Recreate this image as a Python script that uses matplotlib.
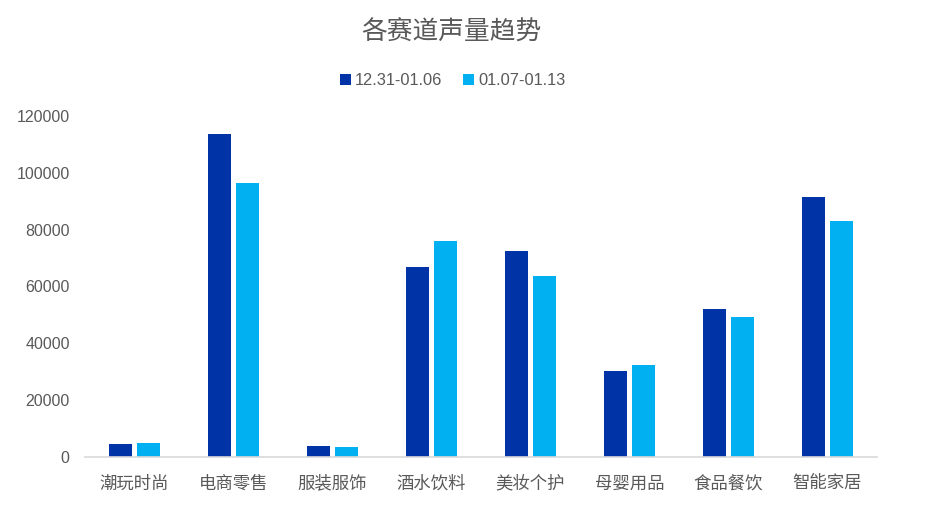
import matplotlib
matplotlib.use("Agg")
import matplotlib.pyplot as plt
import numpy as np

plt.rcParams['font.family'] = ['Liberation Sans', 'Noto Sans CJK SC', 'DejaVu Sans']

categories = ["潮玩时尚", "电商零售", "服装服饰", "酒水饮料", "美妆个护", "母婴用品", "食品餐饮", "智能家居"]
week1 = [4600, 113800, 3900, 66800, 72500, 30200, 52000, 91400]
week2 = [4900, 96300, 3500, 76000, 63600, 32200, 49300, 82900]
labels = ["12.31-01.06", "01.07-01.13"]

fig = plt.figure(figsize=(9.37, 5.08), dpi=100)
ax = fig.add_axes([85 / 937, 1 - 457 / 508, 792 / 937, 341 / 508])

x = np.arange(len(categories))
w = 0.23
gap = 0.03
ax.bar(x - w / 2 - gap, week1, w, color="#0033a6", label=labels[0])
ax.bar(x + w / 2 + gap, week2, w, color="#00b0f0", label=labels[1])

ax.set_xlim(-0.5, len(categories) - 0.5)
ax.set_ylim(0, 120000)
ax.set_yticks(range(0, 120001, 20000))
ax.set_xticks(x)
ax.set_xticklabels(categories, fontsize=12.5, family="Noto Sans CJK SC", va="center")
ax.tick_params(axis="both", length=0, labelcolor="#595959")
ax.tick_params(axis="y", labelsize=11.5, pad=11)
ax.tick_params(axis="x", pad=19)
for s in ["top", "right", "left"]:
    ax.spines[s].set_visible(False)
ax.spines["bottom"].set_color("#d9d9d9")
ax.spines["bottom"].set_linewidth(1.2)

fig.text(0.482, 1 - 33 / 508, "各赛道声量趋势", ha="center", va="center", fontsize=18.5, color="#595959")
fig.legend(loc="center", bbox_to_anchor=(0.483, 1 - 81 / 508), ncol=2, frameon=False,
           fontsize=11.8, labelcolor="#595959", handlelength=0.65, handleheight=0.65,
           handletextpad=0.25, columnspacing=1.3)

fig.savefig("out.png", dpi=100)
